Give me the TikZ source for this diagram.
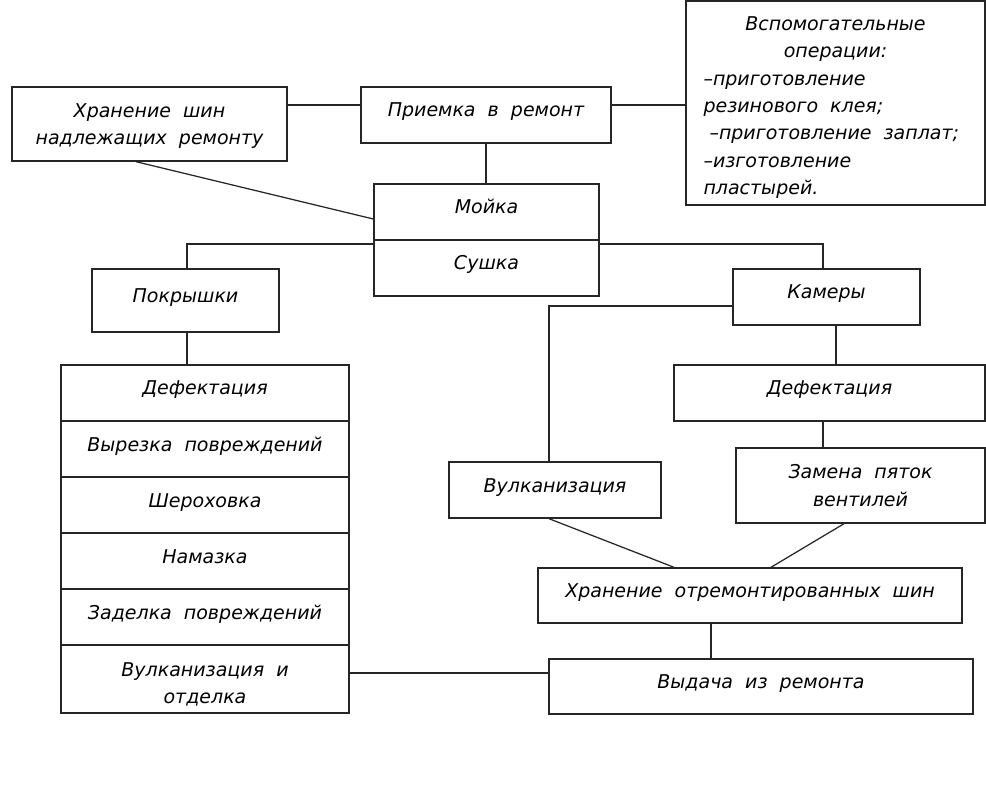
\documentclass[tikz,border=0pt]{standalone}
\usepackage{fontspec}
\setmainfont{DejaVu Sans}[WordSpace=2]
\begin{document}
\begin{tikzpicture}[x=1pt,y=-1pt,
  box/.style={draw=black!85, line width=1.4pt, rectangle, inner sep=0pt,
    font=\itshape\fontsize{19}{27.3}\selectfont, align=center},
  one/.style={text height=12pt, text depth=8pt},
  conn/.style={draw=black!85, line width=1.25pt}]
\useasboundingbox (0,0) rectangle (986,810);
% top row
\node[box, minimum width=275pt, minimum height=74pt] (hran) at (149.5,124)
  {\rule{0pt}{18pt}Хранение шин\\надлежащих ремонту};
\node[box, one, minimum width=250pt, minimum height=56pt] (priem) at (486,115) {Приемка в ремонт};
\node[box, minimum width=299pt, minimum height=204pt, align=left, text width=264pt] (vspom) at (835.5,103)
  {\spaceskip=12pt\rule{0pt}{23pt}\makebox[264pt]{Вспомогательные}\\
   \makebox[264pt]{операции:}\\
   –приготовление\\
   резинового клея;\\
   \hspace*{6pt}–приготовление заплат;\\
   –изготовление\\
   пластырей.};
% wash / dry
\node[box, one, minimum width=225pt, minimum height=56pt] (moika) at (486.5,212) {Мойка};
\node[box, one, minimum width=225pt, minimum height=56pt] (sushka) at (486.5,268) {Сушка};
% branches
\node[box, one, minimum width=187pt, minimum height=63pt] (pokr) at (185.5,300.5) {Покрышки};
\node[box, one, minimum width=187pt, minimum height=56pt] (kamery) at (826.5,297) {Камеры};
% left stack
\node[box, one, minimum width=288pt, minimum height=56pt] (s1) at (205,393) {Дефектация};
\node[box, one, minimum width=288pt, minimum height=56pt] (s2) at (205,449) {Вырезка повреждений};
\node[box, one, minimum width=288pt, minimum height=56pt] (s3) at (205,505) {Шероховка};
\node[box, one, minimum width=288pt, minimum height=56pt] (s4) at (205,561) {Намазка};
\node[box, one, minimum width=288pt, minimum height=56pt] (s5) at (205,617) {Заделка повреждений};
\node[box, minimum width=288pt, minimum height=68pt] (s6) at (205,679)
  {\rule{0pt}{24pt}Вулканизация и\\отделка};
% right branch
\node[box, one, minimum width=311pt, minimum height=56pt] (defR) at (829.5,393) {Дефектация};
\node[box, minimum width=249pt, minimum height=75pt] (zamena) at (860.5,485.5)
  {Замена пяток\\вентилей};
\node[box, one, minimum width=212pt, minimum height=56pt] (vulk) at (555,490) {Вулканизация};
\node[box, one, minimum width=424pt, minimum height=55pt] (hranot) at (750,595.5) {Хранение отремонтированных шин};
\node[box, one, minimum width=424pt, minimum height=55pt] (vyd) at (761,686.5) {Выдача из ремонта};
% helper coordinates
\coordinate (a1) at (0,105);
\coordinate (a2) at (136,0);
\coordinate (a3) at (0,219);
\coordinate (jL) at (187,244);
\coordinate (jR) at (823,244);
\coordinate (jV) at (549,306);
\coordinate (k1) at (836,0);
\coordinate (k2) at (823,0);
\coordinate (v1) at (549,0);
\coordinate (v2) at (674,0);
\coordinate (z1) at (844,0);
\coordinate (z2) at (771,0);
\coordinate (h1) at (711,0);
\coordinate (o1) at (0,673);
% connectors
\draw[conn] (hran.east |- a1) -- (priem.west |- a1);
\draw[conn] (priem.east |- a1) -- (vspom.west |- a1);
\draw[conn] (priem.south) -- (priem.south |- moika.north);
\draw[conn] (hran.south -| a2) -- (moika.west |- a3);
\draw[conn] (sushka.west |- jL) -- (jL) -- (jL |- pokr.north);
\draw[conn] (sushka.east |- jR) -- (jR) -- (jR |- kamery.north);
\draw[conn] (pokr.south -| jL) -- (jL |- s1.north);
\draw[conn] (kamery.west |- jV) -- (jV) -- (jV |- vulk.north);
\draw[conn] (kamery.south -| k1) -- (defR.north -| k1);
\draw[conn] (defR.south -| k2) -- (zamena.north -| k2);
\draw[conn] (vulk.south -| v1) -- (hranot.north -| v2);
\draw[conn] (zamena.south -| z1) -- (hranot.north -| z2);
\draw[conn] (hranot.south -| h1) -- (vyd.north -| h1);
\draw[conn] (s6.east |- o1) -- (vyd.west |- o1);
\end{tikzpicture}
\end{document}
